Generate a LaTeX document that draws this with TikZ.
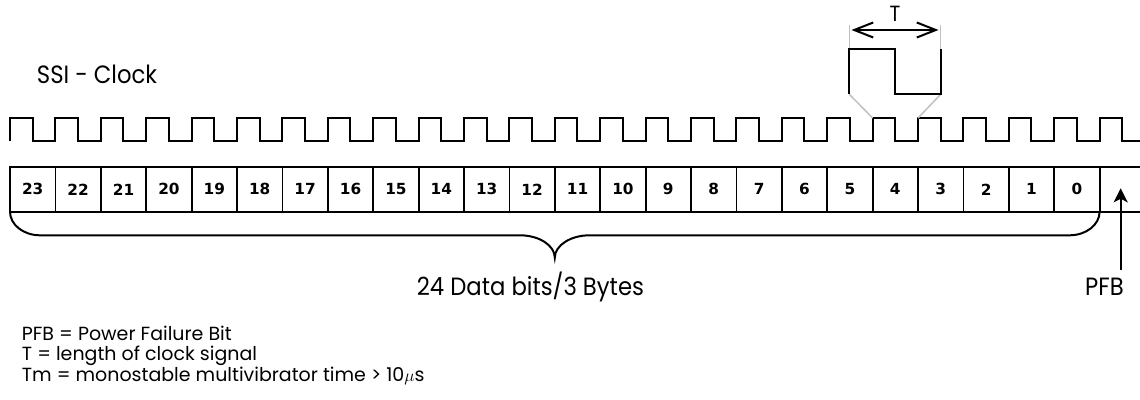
\documentclass[tikz,border=0pt]{standalone}
\usepackage{fontspec}
\setmainfont{Poppins}
\newfontfamily\narrowfont{Poppins}[FakeStretch=0.91]
\newfontfamily\digfont{DejaVu Sans}
\usetikzlibrary{arrows.meta}
\definecolor{guide}{RGB}{192,192,192}
\begin{document}
\begin{tikzpicture}[x=1pt,y=-1pt,
  clk/.style={line width=2pt},
  boxline/.style={line width=1.8pt},
  guideline/.style={draw=guide,line width=1.5pt},
  cell/.style={draw,line width=1.8pt,minimum width=45.4pt,minimum height=44.7pt,inner sep=0pt,outer sep=0pt,font=\digfont\bfseries\fontsize{15.3}{15.3}\selectfont},
  bigtxt/.style={font=\narrowfont\fontsize{25}{30}\selectfont,inner sep=0pt},
  legtxt/.style={font=\fontsize{19}{22}\selectfont,inner sep=0pt,anchor=base west},
  bracepath/.style={line width=2pt}]
\useasboundingbox (0,0) rectangle (1140,399);
% clock
\draw[clk] (10,141) -- (10,118)
  \foreach \k in {0,...,23} { -- ({10+\k*45.4+22.5},118) -- ({10+\k*45.4+22.5},141) -- ({10+(\k+1)*45.4},141) -- ({10+(\k+1)*45.4},118) }
  -- (1122.1,118) -- (1122.1,141) -- (1140,141);
% magnified pulse
\draw[guideline] (849.3,49) -- (849.3,25);
\draw[guideline] (940.7,49) -- (940.7,25);
\draw[guideline] (849.3,94.3) -- (872.6,118);
\draw[guideline] (940.7,94.3) -- (918,118);
\draw[clk] (849.3,94.3) -- (849.3,49) -- (895,49) -- (895,94.3) -- (940.7,94.3) -- (940.7,49);
\coordinate (ta) at (851.5,30);
\coordinate (tb) at (938.5,30);
\draw[line width=2pt,{Straight Barb[length=19pt,width=15pt]}-{Straight Barb[length=19pt,width=15pt]}] (ta) -- (tb);
\node[bigtxt,anchor=base,font=\narrowfont\fontsize{22}{26}\selectfont] (tlabel) at (895,21.7) {T};
\node[bigtxt,anchor=base west] (ssi) at (36.7,83.3) {SSI - Clock};
% cells
\foreach \i in {0,...,23} {
  \node[cell] (c\i) at ({10+(23-\i+0.5)*45.4},189.35) {\i};
}
\draw[boxline] (c0.north east) -- (1140,167);
\draw[boxline] (c0.south east) -- (1140,211.7);
% brace
\draw[bracepath] (c23.south west) .. controls +(0,13) and +(-16.5,0) .. ++(30,23.6)
  -- (520,235.3) .. controls +(19,0) and +(0,-12.3) .. (554.8,257.7) coordinate (btip)
  .. controls +(0,-12.3) and +(-19,0) .. (589.6,235.3)
  -- (1069.6,235.3) .. controls +(16.5,0) and +(0,13) .. (c0.south east);
\node[bigtxt,anchor=base west] (data) at (416.7,295) {24 Data bits/3 Bytes};
% PFB
\node[bigtxt,anchor=base west] (pfb) at (1085,295) {PFB};
\coordinate (pt) at (1120.7,270);
\coordinate (ph) at (1120.7,188.3);
\draw[line width=2pt,-{Stealth[length=14pt,width=14pt,inset=3.5pt]}] (pt) -- (ph);
% legend
\node[legtxt] (l1) at (21.7,340) {PFB = Power Failure Bit};
\node[legtxt] (l2) at (21.7,360.7) {T = length of clock signal};
\node[legtxt] (l3) at (21.7,381) {Tm = monostable multivibrator time > 10$\mu$s};
\end{tikzpicture}
\end{document}
